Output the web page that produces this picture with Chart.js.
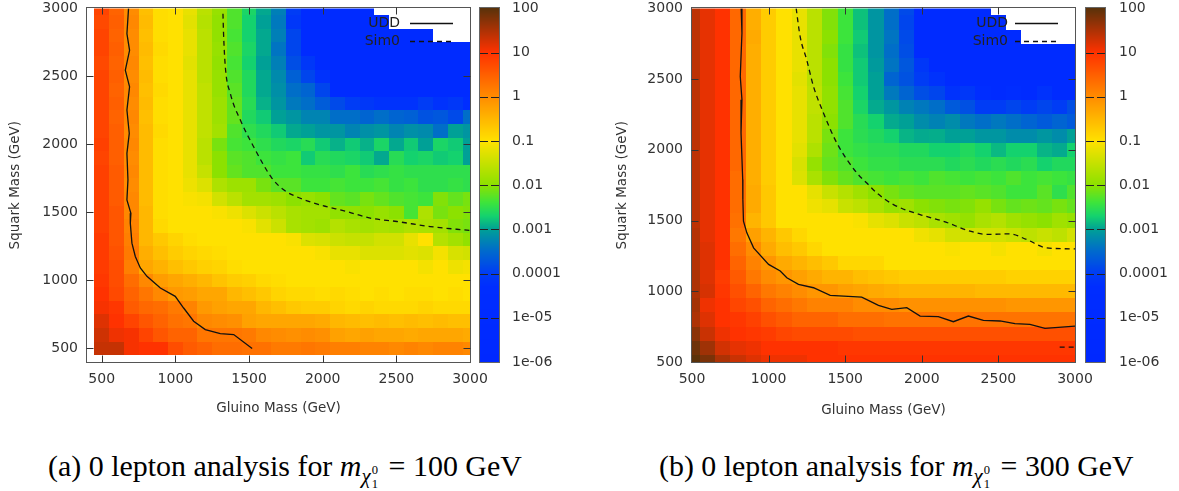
<!DOCTYPE html>
<html><head><meta charset="utf-8">
<script src="https://cdn.jsdelivr.net/npm/chart.js@4/dist/chart.umd.min.js"></script>
<style>
html,body{margin:0;padding:0;background:#fff;width:1179px;height:491px;overflow:hidden;position:relative}
.pane{position:absolute;top:0}
.cap{position:absolute;font-family:"Liberation Serif","Times New Roman",serif;white-space:nowrap;color:#000;line-height:1;font-size:25px}
.mi{font-style:italic}
.chi{font-style:italic;font-size:0.7em;position:relative;top:0.32em;margin-right:0.5em}
.su,.sb{position:absolute;left:100%;font-style:normal;font-size:0.6em;line-height:1;margin-left:0.08em}
.su{top:0}
.sb{top:1.15em}
</style></head><body>
<div class="pane" style="left:0px"><canvas id="cA" width="580" height="430"></canvas></div>
<div class="pane" style="left:590px"><canvas id="cB" width="589" height="430"></canvas></div>
<div class="cap" id="capA">(a) 0 lepton analysis for <span class="mi">m</span><span class="chi">χ<span class="su">0</span><span class="sb">1</span></span> = 100 GeV</div>
<div class="cap" id="capB">(b) 0 lepton analysis for <span class="mi">m</span><span class="chi">χ<span class="su">0</span><span class="sb">1</span></span> = 300 GeV</div>
<script>
// ---------------- DATA ----------------
const N = null, B = -5;   // N: no data (white), B: below 1e-05 (saturated blue)
const gluinoMass = [500,600,700,800,900,1000,1100,1200,1300,1400,1500,1600,1700,1800,1900,2000,2100,2200,2300,2400,2500,2600,2700,2800,2900,3000];
const squarkMass = [3000,2900,2800,2700,2600,2500,2400,2300,2200,2100,2000,1900,1800,1700,1600,1500,1400,1300,1200,1100,1000,900,800,700,600,500];
const massTickValues = [500,1000,1500,2000,2500,3000];
const massTickLabels = ['500','1000','1500','2000','2500','3000'];
const cbTickValues = [1e-6,1e-5,1e-4,1e-3,1e-2,0.1,1,10,100];
const cbTickLabels = ['1e-06','1e-05','0.0001','0.001','0.01','0.1','1','10','100'];

// panel (a): log10 of plotted value, one row per squark mass (columns = gluinoMass)
const a3000 = [0.8,0.45,0.0,-0.6,-0.95,-1.0,-1.2,-1.6,-1.9,-2.3,-2.65,-2.95,-3.3,-4.0,B,B,B,B,B,N,N,N,N,N,N,N];
const a2900 = [0.75,0.5,0.05,-0.55,-0.95,-1.0,-1.25,-1.65,-1.95,-2.3,-2.7,-3.0,-3.35,-4.1,B,B,B,B,B,B,N,N,N,N,N,N];
const a2800 = [0.8,0.45,0.0,-0.6,-0.95,-1.0,-1.2,-1.6,-1.95,-2.35,-2.7,-2.95,-3.3,-3.9,B,B,B,B,B,B,B,B,B,N,N,N];
const a2700 = [0.8,0.5,0.0,-0.55,-0.9,-1.0,-1.2,-1.6,-1.9,-2.3,-2.65,-2.95,-3.4,-3.9,B,B,B,B,B,B,B,B,B,B,B,B];
const a2600 = [0.75,0.45,0.05,-0.6,-0.95,-1.0,-1.25,-1.6,-1.95,-2.35,-2.7,-3.0,-3.3,-3.8,-4.1,B,B,B,B,B,B,B,B,B,B,B];
const a2500 = [0.8,0.5,0.0,-0.55,-0.95,-1.0,-1.2,-1.6,-1.9,-2.3,-2.6,-2.95,-3.2,-3.6,-3.9,-4.2,B,B,B,B,B,B,B,B,B,B];
const a2400 = [0.8,0.45,0.05,-0.6,-0.9,-1.0,-1.2,-1.55,-1.9,-2.25,-2.6,-2.95,-3.15,-3.45,-3.55,-3.9,B,B,B,B,B,B,B,B,B,B];
const a2300 = [0.8,0.5,0.0,-0.55,-0.95,-1.0,-1.2,-1.55,-1.85,-2.2,-2.55,-2.9,-3.1,-3.35,-3.45,-3.65,-3.85,-4.0,-4.1,-4.2,-4.2,-4.2,-4.0,-4.2,-4.1,-4.3];
const a2200 = [0.8,0.45,0.05,-0.6,-0.95,-1.0,-1.2,-1.55,-1.85,-2.2,-2.6,-2.75,-3.0,-3.1,-3.25,-3.25,-3.45,-3.45,-3.55,-3.45,-3.55,-3.6,-3.75,-3.7,-3.85,-3.45];
const a2100 = [0.8,0.5,0.0,-0.55,-0.9,-1.0,-1.2,-1.55,-1.8,-2.3,-2.5,-2.6,-2.75,-2.95,-3.0,-3.1,-3.1,-3.25,-3.15,-3.1,-3.25,-3.15,-3.2,-3.45,-3.0,-3.1];
const a2000 = [0.85,0.5,0.05,-0.55,-0.95,-1.0,-1.2,-1.6,-2.1,-2.35,-2.4,-2.5,-2.6,-2.65,-2.55,-2.75,-2.9,-2.75,-2.9,-2.65,-2.95,-2.75,-3.0,-2.65,-2.75,-3.0];
const a1900 = [0.8,0.5,0.0,-0.55,-0.95,-1.0,-1.2,-1.6,-2.0,-2.25,-2.3,-2.4,-2.45,-2.4,-2.75,-2.55,-2.6,-2.65,-2.75,-2.95,-2.55,-2.7,-2.65,-2.75,-2.7,-3.0];
const a1800 = [0.85,0.55,0.05,-0.55,-0.95,-1.0,-1.2,-1.5,-2.0,-2.2,-2.3,-2.3,-2.4,-2.4,-2.45,-2.45,-2.5,-2.4,-2.55,-2.5,-2.45,-2.5,-2.5,-2.5,-2.5,-2.5];
const a1700 = [0.85,0.55,0.0,-0.55,-0.95,-1.0,-1.15,-1.3,-1.7,-1.85,-1.85,-2.1,-2.25,-2.25,-2.4,-2.4,-2.35,-2.4,-2.4,-2.35,-2.45,-2.4,-2.5,-2.5,-2.45,-2.5];
const a1600 = [0.85,0.55,0.05,-0.55,-0.95,-1.0,-1.05,-1.1,-1.4,-1.6,-1.8,-1.8,-1.85,-2.0,-1.9,-2.0,-2.2,-2.25,-2.1,-2.2,-2.3,-2.35,-2.4,-2.05,-2.2,-2.1];
const a1500 = [0.85,0.6,0.05,-0.5,-0.95,-1.0,-1.0,-1.0,-1.05,-1.15,-1.3,-1.45,-1.6,-1.75,-1.8,-1.8,-1.95,-1.95,-2.0,-1.9,-2.0,-2.35,-1.7,-2.1,-2.0,-2.05];
const a1400 = [0.85,0.6,0.1,-0.5,-0.9,-1.0,-1.0,-1.0,-1.0,-1.0,-1.05,-1.25,-1.45,-1.75,-1.8,-1.85,-1.65,-1.75,-1.8,-1.75,-1.8,-1.7,-1.75,-1.8,-2.05,-2.1];
const a1300 = [0.9,0.6,0.15,-0.5,-0.7,-0.85,-0.95,-1.0,-1.0,-1.0,-1.0,-1.0,-1.0,-1.05,-1.3,-1.35,-1.45,-1.5,-1.5,-1.4,-1.4,-1.2,-1.0,-1.65,-1.8,-1.95];
const a1200 = [0.9,0.65,0.2,-0.4,-0.6,-0.75,-0.85,-0.9,-0.95,-1.0,-1.0,-1.0,-1.0,-1.0,-1.0,-1.05,-1.2,-1.2,-1.3,-1.3,-1.3,-1.25,-1.3,-1.1,-1.35,-1.4];
const a1100 = [0.9,0.7,0.15,-0.3,-0.45,-0.6,-0.7,-0.8,-0.85,-0.95,-1.0,-1.0,-1.0,-1.0,-1.0,-1.0,-1.0,-1.05,-1.0,-1.0,-1.0,-1.0,-1.1,-1.0,-1.15,-1.1];
const a1000 = [0.95,0.7,0.35,0.05,-0.2,-0.3,-0.4,-0.5,-0.65,-0.75,-0.8,-0.9,-0.95,-1.0,-1.0,-1.0,-1.0,-1.0,-1.0,-1.0,-1.0,-1.0,-1.0,-1.0,-1.0,-1.0];
const a900  = [1.0,0.75,0.45,0.25,0.05,-0.15,-0.2,-0.3,-0.3,-0.5,-0.6,-0.7,-0.85,-0.9,-0.9,-0.95,-0.9,-0.95,-1.0,-0.95,-1.0,-0.95,-0.95,-1.0,-0.95,-1.0];
const a800  = [1.05,0.95,0.55,0.4,0.35,0.2,0.1,-0.15,-0.25,-0.3,-0.3,-0.5,-0.6,-0.7,-0.75,-0.75,-0.85,-0.9,-0.85,-0.9,-0.9,-0.9,-0.85,-0.9,-0.9,-0.9];
const a700  = [1.2,1.0,0.8,0.6,0.45,0.3,0.25,0.05,0.0,-0.05,-0.25,-0.3,-0.3,-0.3,-0.3,-0.35,-0.5,-0.55,-0.6,-0.55,-0.6,-0.55,-0.6,-0.55,-0.6,-0.6];
const a600  = [1.3,1.1,1.05,0.8,0.6,0.45,0.45,0.25,0.25,0.25,0.2,0.05,0.0,-0.05,0.0,-0.05,-0.25,-0.3,-0.25,-0.3,-0.3,-0.35,-0.3,-0.3,-0.3,-0.35];
const a500  = [1.35,1.35,1.05,1.0,1.0,0.7,0.55,0.45,0.35,0.35,0.3,0.3,0.2,0.2,0.25,0.2,0.15,0.15,0.1,0.1,0.05,0.1,0.05,0.1,0.1,0.05];

// panel (b)
const b3000 = [1.4,1.15,1.0,0.4,-0.4,-0.75,-1.0,-1.2,-1.6,-2.05,-2.4,-2.8,-3.1,-3.45,-3.85,B,B,B,B,B,N,N,N,N,N,N];
const b2900 = [1.4,1.15,1.0,0.4,-0.4,-0.75,-1.0,-1.2,-1.6,-2.05,-2.4,-2.8,-3.1,-3.45,-3.9,B,B,B,B,B,B,N,N,N,N,N];
const b2800 = [1.4,1.15,1.0,0.4,-0.35,-0.75,-1.0,-1.2,-1.6,-2.0,-2.4,-2.75,-3.1,-3.4,-3.85,B,B,B,B,B,B,B,N,N,N,N];
const b2700 = [1.4,1.15,1.0,0.4,-0.4,-0.75,-1.0,-1.2,-1.6,-2.05,-2.45,-2.8,-3.1,-3.45,-3.8,B,B,B,B,B,B,B,B,B,B,B];
const b2600 = [1.4,1.15,1.0,0.4,-0.4,-0.75,-1.0,-1.2,-1.6,-2.0,-2.45,-2.75,-3.05,-3.4,-3.7,-4.1,B,B,B,B,B,B,B,B,B,B];
const b2500 = [1.4,1.15,1.0,0.4,-0.4,-0.75,-1.0,-1.25,-1.6,-2.0,-2.4,-2.75,-3.0,-3.55,-3.75,-4.0,-4.2,B,B,B,B,B,B,B,B,B];
const b2400 = [1.4,1.15,1.0,0.4,-0.4,-0.75,-1.0,-1.2,-1.55,-1.95,-2.35,-2.7,-3.0,-3.35,-3.55,-3.8,-3.9,-4.2,-4.1,-4.3,B,-4.3,B,-4.2,B,B];
const b2300 = [1.4,1.15,1.0,0.4,-0.4,-0.75,-1.0,-1.2,-1.55,-1.95,-2.3,-2.65,-2.94,-3.09,-3.27,-3.36,-3.45,-3.67,-3.78,-4.0,-4.0,-3.9,-4.0,-3.9,-4.0,-3.8];
const b2200 = [1.4,1.15,1.0,0.4,-0.4,-0.75,-1.0,-1.2,-1.6,-2.0,-2.3,-2.55,-2.7,-2.94,-3.0,-3.18,-3.27,-3.18,-3.36,-3.45,-3.36,-3.45,-3.56,-3.67,-3.56,-3.67];
const b2100 = [1.4,1.15,1.0,0.4,-0.4,-0.75,-1.0,-1.2,-1.6,-2.1,-2.4,-2.53,-2.6,-2.7,-2.88,-2.94,-2.92,-3.0,-3.0,-3.09,-3.09,-3.18,-3.18,-3.09,-3.18,-3.0];
const b2000 = [1.4,1.15,1.0,0.4,-0.4,-0.75,-1.0,-1.25,-1.7,-2.15,-2.4,-2.47,-2.53,-2.53,-2.6,-2.6,-2.7,-2.7,-2.6,-2.7,-2.85,-2.7,-2.7,-2.88,-2.94,-2.7];
const b1900 = [1.4,1.15,1.0,0.4,-0.4,-0.75,-1.0,-1.35,-1.91,-2.2,-2.3,-2.4,-2.47,-2.47,-2.53,-2.53,-2.53,-2.6,-2.53,-2.6,-2.53,-2.6,-2.53,-2.7,-2.6,-2.6];
const b1800 = [1.4,1.15,1.0,0.35,-0.4,-0.75,-1.0,-1.3,-1.74,-2.05,-2.2,-2.3,-2.35,-2.4,-2.35,-2.4,-2.3,-2.35,-2.4,-2.35,-2.4,-2.3,-2.4,-2.35,-2.4,-2.45];
const b1700 = [1.4,1.15,1.0,0.35,-0.35,-0.71,-1.0,-1.0,-1.22,-1.48,-1.65,-1.83,-2.0,-2.1,-2.2,-2.25,-2.25,-2.25,-2.2,-2.25,-2.3,-2.4,-2.4,-2.25,-2.5,-2.3];
const b1600 = [1.4,1.15,1.0,0.35,-0.35,-0.71,-1.0,-1.0,-1.13,-1.22,-1.48,-1.57,-1.74,-1.91,-1.83,-2.0,-2.05,-2.1,-2.05,-1.91,-2.1,-2.2,-2.15,-2.2,-2.1,-2.2];
const b1500 = [1.4,1.15,1.0,0.3,-0.47,-0.71,-1.0,-1.0,-1.0,-1.0,-1.0,-1.05,-1.22,-1.3,-1.48,-1.57,-1.74,-1.83,-1.91,-1.74,-1.65,-1.83,-1.91,-2.0,-1.83,-1.91];
const b1400 = [1.45,1.15,1.0,0.22,-0.24,-0.47,-0.71,-0.88,-1.0,-1.0,-1.0,-1.0,-1.0,-1.0,-1.0,-1.13,-1.22,-1.39,-1.39,-1.39,-1.39,-1.48,-1.57,-1.48,-1.57,-1.39];
const b1300 = [1.45,1.2,1.0,0.33,0.0,-0.35,-0.59,-0.71,-0.88,-1.0,-1.0,-1.0,-1.0,-1.0,-1.0,-1.0,-1.0,-1.05,-1.0,-1.0,-1.09,-1.0,-1.0,-1.09,-1.0,-1.0];
const b1200 = [1.45,1.2,1.0,0.44,0.11,-0.12,-0.35,-0.47,-0.59,-0.71,-0.88,-0.88,-0.88,-1.0,-1.0,-1.0,-1.0,-1.0,-1.0,-1.0,-1.0,-1.0,-1.0,-1.0,-1.0,-1.0];
const b1100 = [1.5,1.2,0.89,0.56,0.22,0.0,-0.12,-0.24,-0.35,-0.47,-0.47,-0.59,-0.65,-0.71,-0.76,-0.76,-0.76,-0.76,-0.76,-0.76,-0.76,-0.82,-0.82,-0.82,-0.82,-0.82];
const b1000 = [1.5,1.25,0.94,0.67,0.44,0.22,0.11,0.0,-0.12,-0.12,-0.24,-0.29,-0.35,-0.41,-0.47,-0.47,-0.47,-0.47,-0.47,-0.53,-0.53,-0.53,-0.53,-0.53,-0.53,-0.53];
const b900  = [1.55,1.1,1.0,0.78,0.67,0.44,0.33,0.22,0.11,0.11,0.11,0.0,0.0,0.0,-0.06,-0.06,-0.06,-0.06,-0.06,-0.06,-0.06,-0.12,-0.12,-0.12,-0.12,-0.12];
const b800  = [1.5,1.2,1.0,0.94,0.83,0.67,0.56,0.44,0.44,0.44,0.33,0.33,0.33,0.28,0.28,0.28,0.28,0.28,0.28,0.28,0.28,0.28,0.28,0.28,0.28,0.28];
const b700  = [1.7,1.33,1.1,1.0,0.94,0.89,0.78,0.72,0.72,0.72,0.72,0.67,0.67,0.67,0.67,0.67,0.67,0.67,0.67,0.67,0.67,0.67,0.67,0.67,0.67,0.67];
const b600  = [1.88,1.58,1.27,1.15,1.1,1.0,1.0,1.0,1.0,1.0,0.94,0.94,0.94,0.94,0.94,0.94,0.94,0.94,0.94,0.94,0.94,0.94,0.94,0.94,0.94,0.94];
const b500  = [2.0,1.8,1.5,1.33,1.2,1.1,1.1,1.1,1.0,1.0,1.0,1.0,1.0,1.0,1.0,1.0,1.0,1.0,1.0,1.0,1.0,1.0,1.0,1.0,1.0,1.0];

// contour lines (gluino, squark)
const uddA_g = [682,671,689,660,689,671,687,671,678,671,698,694,705,728,762,807,898,999,1056,1124,1203,1305,1396,1521];
const uddA_s = [3000,2814,2692,2545,2423,2252,2081,1934,1739,1592,1494,1421,1274,1176,1091,1030,944,883,797,700,638,609,602,499];
const simA_g = [1323,1327,1339,1373,1441,1531,1656,1735,1848,1984,2165,2323,2504,2730,3000];
const simA_s = [2961,2814,2570,2374,2179,1983,1751,1666,1604,1555,1506,1458,1433,1396,1367];
const uddB_g = [821,826,815,826,820,831,832,836,858,902,1000,1076,1119,1195,1293,1402,1608,1717,1804,1902,1989,2108,2206,2304,2402,2510,2608,2706,2804,3000];
const uddB_s = [3000,2824,2519,2354,2120,1791,1648,1495,1413,1307,1190,1143,1096,1049,1025,971,959,901,872,884,825,821,785,825,795,790,771,766,738,754];
const simB_g = [1180,1206,1249,1293,1358,1445,1575,1641,1706,1815,1989,2141,2315,2423,2576,2684,2815,3000];
const simB_s = [3000,2800,2636,2448,2261,2049,1838,1765,1695,1613,1542,1495,1425,1402,1406,1366,1307,1300];
const simB2_g = [2900,3000];
const simB2_s = [605,605];

// ---------------- STYLE ----------------
const gridA = [a3000,a2900,a2800,a2700,a2600,a2500,a2400,a2300,a2200,a2100,a2000,a1900,a1800,a1700,a1600,a1500,a1400,a1300,a1200,a1100,a1000,a900,a800,a700,a600,a500];
const gridB = [b3000,b2900,b2800,b2700,b2600,b2500,b2400,b2300,b2200,b2100,b2000,b1900,b1800,b1700,b1600,b1500,b1400,b1300,b1200,b1100,b1000,b900,b800,b700,b600,b500];
const paletteStops = [
  [-6,[0,40,255]],[-4.3,[0,45,255]],[-4,[0,60,245]],[-3.5,[0,105,205]],[-3,[0,160,150]],
  [-2.7,[20,210,110]],[-2.4,[60,228,60]],[-2,[140,225,0]],[-1,[255,225,0]],[0,[255,140,0]],
  [1,[255,50,0]],[2,[90,50,10]]
];
const FONT = 'DejaVu Sans';
const TXT = '#333333';
const LINE = '#111111';

function palette(lv){
  if (lv <= paletteStops[0][0]) return 'rgb('+paletteStops[0][1].join(',')+')';
  for (let i=1;i<paletteStops.length;i++){
    const [v1,c1] = paletteStops[i], [v0,c0] = paletteStops[i-1];
    if (lv <= v1){
      const t = (lv-v0)/(v1-v0);
      return 'rgb('+c0.map((c,k)=>Math.round(c+(c1[k]-c)*t)).join(',')+')';
    }
  }
  return 'rgb('+paletteStops[paletteStops.length-1][1].join(',')+')';
}
function colorFromBar(cb, value){
  const frac = (cb.bottom - cb.getPixelForValue(value)) / (cb.bottom - cb.top);
  return palette(-6 + 8*frac);
}
function pts(g,s){ return g.map((v,i)=>({x:v,y:s[i]})); }

function makeOverlay(grid, lay){
  return {
    id:'overlay',
    beforeDatasetsDraw(chart){
      const {ctx, chartArea:ca, scales} = chart;
      const x = scales.x, y = scales.y, cb = scales.cb;
      ctx.save();
      ctx.beginPath(); ctx.rect(ca.left, ca.top, ca.right-ca.left, ca.bottom-ca.top); ctx.clip();
      const hx = (gluinoMass[1]-gluinoMass[0])/2, hy = (squarkMass[0]-squarkMass[1])/2;
      grid.forEach((row,i)=>{
        const s = squarkMass[i];
        const y0 = Math.round(y.getPixelForValue(s+hy)), y1 = Math.round(y.getPixelForValue(s-hy));
        row.forEach((v,j)=>{
          if (v===null) return;
          const g = gluinoMass[j];
          const x0 = Math.round(x.getPixelForValue(g-hx)), x1 = Math.round(x.getPixelForValue(g+hx));
          ctx.fillStyle = colorFromBar(cb, Math.pow(10,v));
          ctx.fillRect(x0,y0,x1-x0,y1-y0);
        });
      });
      ctx.restore();
    },
    afterDatasetsDraw(chart){
      const {ctx, chartArea:ca, scales} = chart;
      const x = scales.x, y = scales.y, cb = scales.cb;
      ctx.save();
      const L = Math.round(ca.left)-0.5, T = Math.round(ca.top)-0.5, R = Math.round(ca.right)+0.5, Bt = Math.round(ca.bottom)+0.5;
      ctx.strokeStyle = '#555'; ctx.lineWidth = 1;
      ctx.strokeRect(L, T, R-L, Bt-T);
      ctx.strokeStyle = '#333';
      ctx.beginPath();
      massTickValues.forEach(v=>{
        const px = Math.round(x.getPixelForValue(v))+0.5;
        if (px > L+1 && px < R-1){ ctx.moveTo(px,Bt); ctx.lineTo(px,Bt-7); ctx.moveTo(px,T); ctx.lineTo(px,T+7); }
        const py = Math.round(y.getPixelForValue(v))+0.5;
        if (py > T+1 && py < Bt-1){ ctx.moveTo(L,py); ctx.lineTo(L+7,py); ctx.moveTo(R,py); ctx.lineTo(R-7,py); }
      });
      ctx.stroke();
      // legend
      ctx.font = '14px "'+FONT+'"';
      ctx.fillStyle = '#222'; ctx.textAlign = 'right'; ctx.textBaseline = 'middle';
      chart.data.datasets.forEach(ds=>{
        if (ds.legendRow === undefined) return;
        const ly = ca.top + 15 + 18*ds.legendRow;
        ctx.fillText(ds.label, ca.right - lay.legText, ly);
        ctx.beginPath(); ctx.strokeStyle = LINE; ctx.lineWidth = 1.3;
        ctx.setLineDash(ds.borderDash || []);
        ctx.moveTo(ca.right - lay.legLine0, Math.round(ly)+0.5); ctx.lineTo(ca.right - lay.legLine1, Math.round(ly)+0.5);
        ctx.stroke(); ctx.setLineDash([]);
      });
      // colour bar
      const bx = Math.round(ca.right) + lay.barGap, bw = lay.barW;
      for (let py = Math.round(cb.top); py < Math.round(cb.bottom); py++){
        ctx.fillStyle = palette(Math.log10(cb.getValueForPixel(py+0.5)));
        ctx.fillRect(bx, py, bw, 1);
      }
      ctx.strokeStyle = '#666'; ctx.lineWidth = 1;
      ctx.strokeRect(bx-0.5, Math.round(cb.top)-0.5, bw+1, Math.round(cb.bottom)-Math.round(cb.top)+1);
      ctx.strokeStyle = '#222';
      ctx.beginPath();
      cbTickValues.slice(1,-1).forEach(v=>{
        const py = Math.round(cb.getPixelForValue(v))+0.5;
        ctx.moveTo(bx, py); ctx.lineTo(bx+8, py);
        ctx.moveTo(bx+bw-8, py); ctx.lineTo(bx+bw, py);
      });
      ctx.stroke();
      ctx.restore();
    }
  };
}

function makePanel(id, cfg){
  const ctx = document.getElementById(id).getContext('2d');
  return new Chart(ctx, {
    type:'scatter',
    data:{ datasets: cfg.datasets },
    options:{
      responsive:false, animation:false, devicePixelRatio:1,
      layout:{ padding:{ top:0, left:0, right:0, bottom:0 } },
      plugins:{ legend:{display:false}, tooltip:{enabled:false} },
      elements:{ point:{ radius:0 } },
      scales:{
        x:{ type:'linear', position:'bottom', min:cfg.min, max:3000,
            grid:{display:false, drawTicks:false}, border:{display:false},
            afterBuildTicks: s => { s.ticks = massTickValues.map(v=>({value:v})); },
            afterFit: s => { s.height = cfg.xH; },
            ticks:{ callback:(v,i)=>massTickLabels[i], color:TXT, font:{family:FONT,size:14}, padding:cfg.xPad, maxRotation:0, autoSkip:false },
            title:{ display:true, text:'Gluino Mass (GeV)', color:TXT, font:{family:FONT,size:13.5}, padding:{top:0,bottom:cfg.xTitlePad} } },
        y:{ type:'linear', position:'left', min:cfg.min, max:3000,
            grid:{display:false, drawTicks:true, tickLength:9}, border:{display:false},
            afterBuildTicks: s => { s.ticks = massTickValues.map(v=>({value:v})); },
            afterFit: s => { s.width = cfg.yW; },
            ticks:{ callback:(v,i)=>massTickLabels[i], color:TXT, font:{family:FONT,size:14}, padding:0, autoSkip:false },
            title:{ display:true, text:'Squark Mass (GeV)', color:TXT, font:{family:FONT,size:13.5}, padding:{top:cfg.yTitlePad,bottom:0} } },
        cb:{ type:'logarithmic', position:'right', min:1e-6, max:100,
            grid:{display:false, drawTicks:true, tickLength:cfg.cbPad}, border:{display:false},
            afterBuildTicks: s => { s.ticks = cbTickValues.map(v=>({value:v})); },
            afterFit: s => { s.width = cfg.cbW; },
            ticks:{ callback:(v,i)=>cbTickLabels[i], color:TXT, font:{family:FONT,size:14}, padding:0, autoSkip:false } }
      }
    },
    plugins:[ makeOverlay(cfg.grid, cfg.lay) ]
  });
}

const lineStyle = { showLine:true, borderColor:LINE, backgroundColor:LINE, borderWidth:1.3, pointRadius:0, fill:false };

makePanel('cA', {
  grid:gridA, min:400, xH:68, xPad:9, xTitlePad:13.6, yW:87, yTitlePad:7.5, cbW:110, cbPad:42,
  lay:{ legText:70, legLine0:60, legLine1:17, barGap:10, barW:19 },
  datasets:[
    Object.assign({label:'UDD', legendRow:0, data:pts(uddA_g,uddA_s), tension:0}, lineStyle),
    Object.assign({label:'Sim0', legendRow:1, data:pts(simA_g,simA_s), borderDash:[5,4], cubicInterpolationMode:'monotone'}, lineStyle)
  ]
});
makePanel('cB', {
  grid:gridB, min:500, xH:68, xPad:9, xTitlePad:11.6, yW:102, yTitlePad:24.5, cbW:104, cbPad:44,
  lay:{ legText:67, legLine0:60, legLine1:17, barGap:11, barW:19 },
  datasets:[
    Object.assign({label:'UDD', legendRow:0, data:pts(uddB_g,uddB_s), tension:0}, lineStyle),
    Object.assign({label:'Sim0', legendRow:1, data:pts(simB_g,simB_s), borderDash:[5,4], cubicInterpolationMode:'monotone'}, lineStyle),
    Object.assign({label:'Sim0 (b)', data:pts(simB2_g,simB2_s), borderDash:[5,4], tension:0}, lineStyle)
  ]
});

// captions
function fitCaption(id, left, width, baseline){
  const el = document.getElementById(id);
  el.style.left = left+'px';
  let fs = 25; el.style.fontSize = fs+'px';
  const w = el.getBoundingClientRect().width;
  fs = fs*width/w; el.style.fontSize = fs+'px';
  el.style.top = (baseline - 0.8375*fs)+'px';
}
fitCaption('capA', 48, 474, 476);
fitCaption('capB', 659, 475, 476);
</script>
</body></html>
